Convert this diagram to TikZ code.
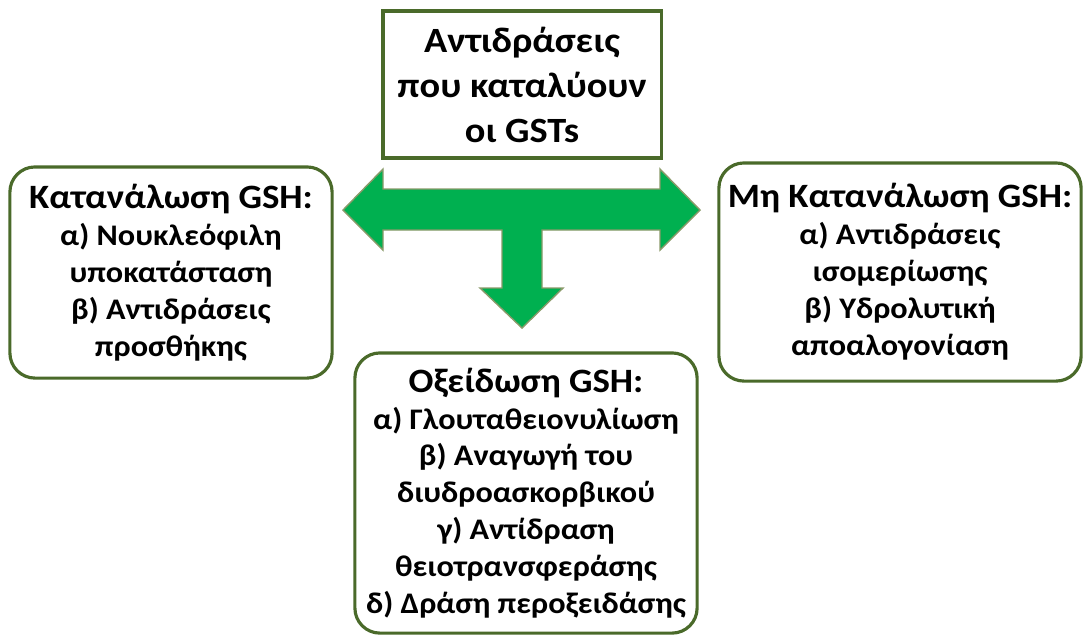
\documentclass[tikz,border=0pt]{standalone}
\usepackage{fontspec}
\setmainfont[FakeStretch=1.08]{Carlito}
\usepackage{tikz}
\definecolor{gstframe}{HTML}{4A6A2A}
\definecolor{gstarrow}{HTML}{00B050}
\definecolor{gstedge}{HTML}{8A9A6A}

\begin{document}
\begin{tikzpicture}[x=0.01cm,y=-0.01cm,font=\bfseries]
  \tikzstyle{mainbox}=[draw=gstframe, line width=0.9pt, fill=white, align=center, inner sep=2pt, font=\bfseries\fontsize{10.1}{12.8}\selectfont]
  \tikzstyle{sidebox}=[draw=gstframe, line width=0.9pt, fill=white, rounded corners=0.25cm, align=center, inner sep=1pt, font=\bfseries\fontsize{8.5}{10.5}\selectfont]
  \tikzstyle{bigarrow}=[fill=gstarrow, draw=gstedge, line width=0.4pt, line join=miter]
  \newcommand{\boxtitle}[1]{{\fontsize{9.7}{10.5}\selectfont #1}}

  \path[use as bounding box] (0,0) rectangle (1083,635);

  \node[mainbox, minimum width=2.78cm, minimum height=1.47cm] (gst) at (522,84.5) {Αντιδράσεις\\που καταλύουν\\οι GSTs};

  % T-shaped block arrow
  \coordinate (hub) at (522,210);
  \draw[bigarrow] (343,210) -- (383,169) -- (383,189) -- (660,189) -- (660,169) -- (700,210)
    -- (660,250) -- (660,230) -- (542,230) -- (542,288) -- (563,288) -- (522,328)
    -- (480,288) -- (502,288) -- (502,230) -- (383,230) -- (383,250) -- cycle;

  \node[sidebox, minimum width=3.22cm, minimum height=2.11cm] (cons) at (171,272.5)
    {\boxtitle{Κατανάλωση GSH:}\\α) Νουκλεόφιλη\\υποκατάσταση\\β) Αντιδράσεις\\προσθήκης};
  \node[sidebox, minimum width=3.62cm, minimum height=2.18cm] (noncons) at (900,272)
    {\boxtitle{Μη Κατανάλωση GSH:}\\α) Αντιδράσεις\\ισομερίωσης\\β) Υδρολυτική\\αποαλογονίαση};
  \node[sidebox, minimum width=3.42cm, minimum height=2.8cm] (oxid) at (526,493)
    {\boxtitle{Οξείδωση GSH:}\\α) Γλουταθειονυλίωση\\β) Αναγωγή του\\διυδροασκορβικού\\γ) Αντίδραση\\θειοτρανσφεράσης\\δ) Δράση περοξειδάσης};
\end{tikzpicture}
\end{document}
